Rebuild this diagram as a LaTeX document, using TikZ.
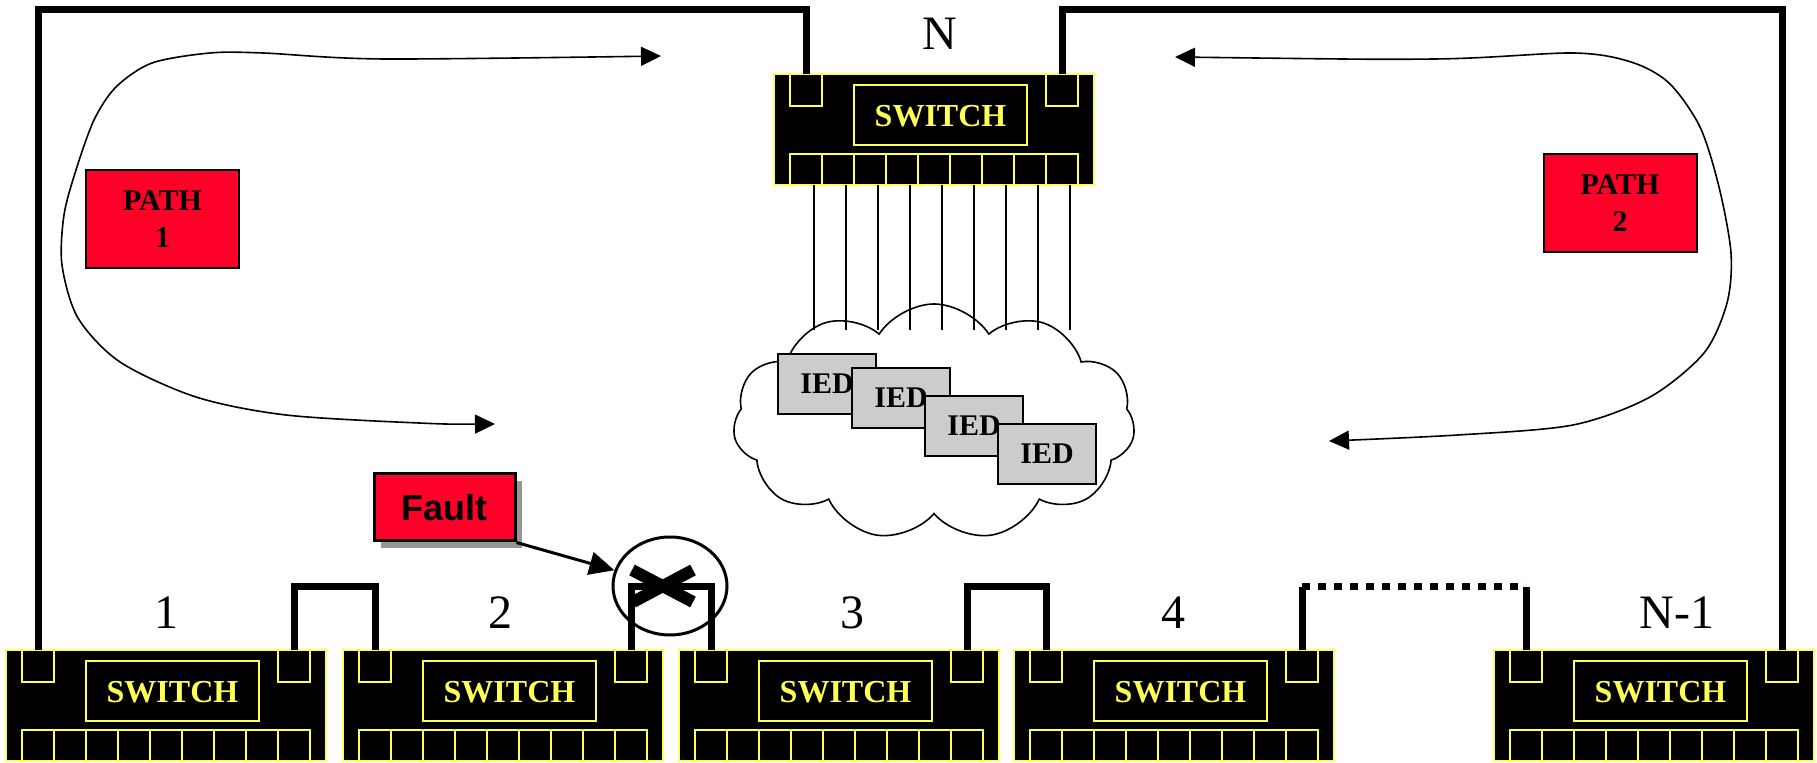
\documentclass[tikz,border=0pt]{standalone}
\usepackage{fontspec}
\setmainfont{Liberation Serif}
\newfontfamily\faultfont{Liberation Sans}
\usepackage{tikz}
\usetikzlibrary{arrows.meta,shapes.geometric,shapes.symbols,shadows}
\definecolor{swyellow}{RGB}{255,255,85}
\definecolor{pathred}{RGB}{255,0,40}
\definecolor{iedgray}{RGB}{204,204,204}
\definecolor{shadowgray}{RGB}{150,150,150}
\tikzset{
    every node/.style={align=center,},
    swedge/.style={draw=swyellow,line width=1pt,},
    swtext/.style={text=swyellow,font=\fontsize{16}{19}\selectfont\bfseries,},
    ring/.style={line width=3.5pt,},
    lead/.style={line width=0.6pt,},
    tag/.style={anchor=base,font=\fontsize{24}{28}\selectfont,},
    pathbox/.style={draw,line width=1pt,fill=pathred,minimum width=76.5pt,minimum height=49pt,
        font=\fontsize{15}{18.5}\selectfont\bfseries,},
    ied/.style={draw,line width=1pt,fill=iedgray,minimum width=49pt,minimum height=30pt,
        font=\fontsize{15}{18}\selectfont\bfseries,},
    faultbox/.style={draw,line width=1.5pt,fill=pathred,minimum width=70.5pt,minimum height=33.5pt,
        font=\faultfont\fontsize{18}{21}\selectfont\bfseries,
        drop shadow={shadow xshift=3.5pt,shadow yshift=-3.5pt,fill=shadowgray,opacity=1},},
    flow/.style={line width=0.8pt,arrows={Triangle[length=10pt,width=9.5pt]-Triangle[length=10pt,width=9.5pt]},},
    pics/switchbox/.style={code={
        \draw[swedge,fill=black] (0,0) rectangle (320,111);
        \draw[swedge] (16,0) rectangle (48,32);
        \draw[swedge] (272,0) rectangle (304,32);
        \draw[swedge] (80,11) rectangle (253,71);
        \node[swtext] (-name) at (166.5,42) {SWITCH};
        \foreach \i in {0,...,8} {
            \draw[swedge] (16+32*\i,80) rectangle ++(32,31);
            \coordinate (-p\i) at (40+32*\i,111);
        }
        \coordinate (-l) at (32,0);
        \coordinate (-r) at (288,0);
    }},
}

\begin{document}
\begin{tikzpicture}[x=0.5pt,y=-0.5pt]
    \useasboundingbox (0,0) rectangle (1817,763);
    \coordinate (ringtop) at (0,10);
    \coordinate (linktop) at (0,587);
    \coordinate (lantop) at (0,330);

    % switches of the ring
    \pic (swN) at (774,74) {switchbox};
    \pic (sw1) at (6,650) {switchbox};
    \pic (sw2) at (343,650) {switchbox};
    \pic (sw3) at (679,650) {switchbox};
    \pic (sw4) at (1014,650) {switchbox};
    \pic (swM) at (1494,650) {switchbox};

    \node[tag] (labN) at (940,50) {N};
    \node[tag] (lab1) at (166,629) {1};
    \node[tag] (lab2) at (500,629) {2};
    \node[tag] (lab3) at (852,629) {3};
    \node[tag] (lab4) at (1173,629) {4};
    \node[tag] (labM) at (1677,629) {N-1};

    % ring cabling
    \draw[ring] (sw1-l) -- (sw1-l |- ringtop) -- (swN-l |- ringtop) -- (swN-l);
    \draw[ring] (swN-r) -- (swN-r |- ringtop) -- (swM-r |- ringtop) -- (swM-r);
    \draw[ring] (sw1-r) -- (sw1-r |- linktop) -- (sw2-l |- linktop) -- (sw2-l);
    \draw[ring] (sw2-r) -- (sw2-r |- linktop) -- (sw3-l |- linktop) -- (sw3-l);
    \draw[ring] (sw3-r) -- (sw3-r |- linktop) -- (sw4-l |- linktop) -- (sw4-l);
    \draw[ring] (sw4-r) -- (sw4-r |- linktop) (swM-l |- linktop) -- (swM-l);
    \draw[ring,dash pattern=on 4pt off 4pt] (sw4-r |- linktop) -- (swM-l |- linktop);

    % station LAN below switch N
    \foreach \i in {0,...,8}
        \draw[lead] (swN-p\i) -- (swN-p\i |- lantop);
    \node[cloud,draw,line width=0.8pt,cloud puffs=11,cloud puff arc=115,aspect=1.75,
        minimum width=201pt,minimum height=118pt] (lan) at (934,422) {};
    \node[ied] (ied1) at (827,384) {IED};
    \node[ied] (ied2) at (901,398) {IED};
    \node[ied] (ied3) at (974,426) {IED};
    \node[ied] (ied4) at (1047,454) {IED};

    % the two directions
    \node[pathbox] (path1) at (162.5,219) {PATH\\1};
    \node[pathbox] (path2) at (1620,203.5) {PATH\\2};
    \draw[flow] plot[smooth] coordinates {(495,424) (419,423) (286,415) (196,397) (120,362)
        (78,318) (62,265) (64,215) (76,170) (94,120) (116,87) (152,63) (210,53) (263,53)
        (384,59) (661,56)};
    \draw[flow] plot[smooth] coordinates {(1175,57) (1435,59) (1573,53) (1631,62) (1669,83)
        (1700,127) (1719,187) (1731,253) (1727,303) (1704,353) (1650,397) (1573,425)
        (1458,435) (1329,441)};

    % broken link
    \node[faultbox] (fault) at (444.5,507.5) {Fault};
    \node[ellipse,draw,line width=1.5pt,minimum width=57pt,minimum height=49pt] (brk) at (670,586) {};
    \draw[line width=6pt] (632,570) -- (693,602) (693,570) -- (633,602);
    \draw[line width=1.5pt,-{Triangle[length=12.5pt,width=11.5pt]}] (fault.south east) -- (brk);
\end{tikzpicture}
\end{document}
